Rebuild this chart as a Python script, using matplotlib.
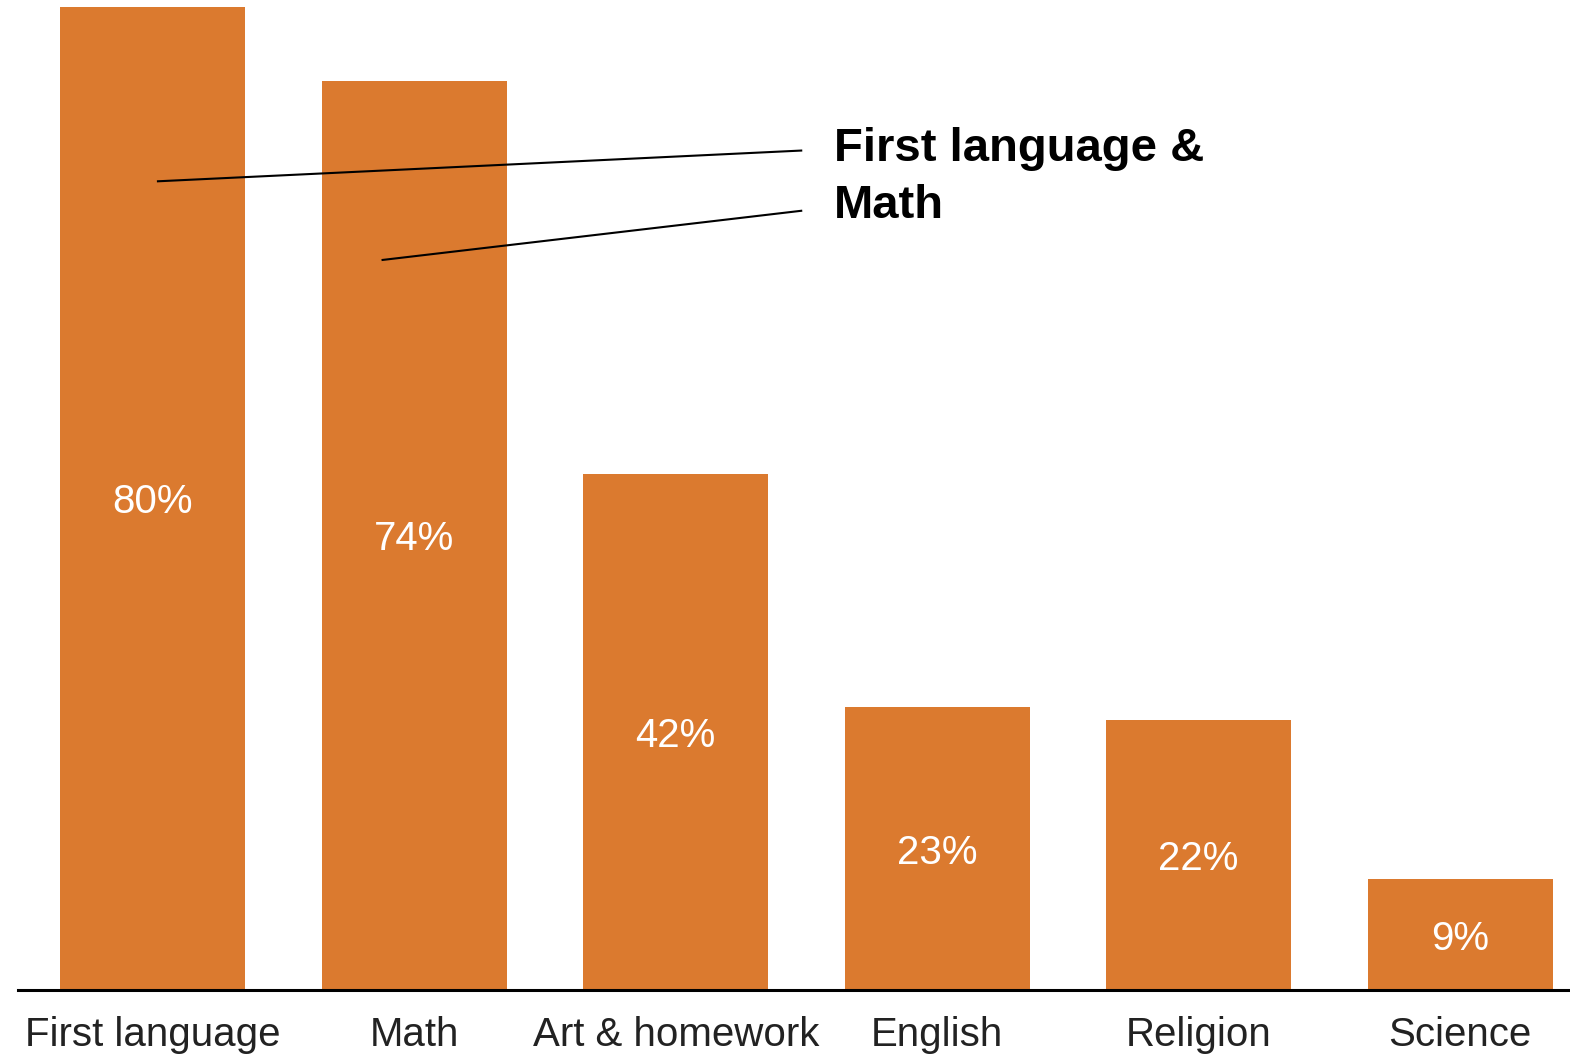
import numpy as np
import matplotlib.pyplot as plt

# subjects and share of pupils
subjects = ["First language", "Math", "Art & homework", "English", "Religion", "Science"]
shares = [80, 74, 42, 23, 22, 9]
value_labels = ["80%", "74%", "42%", "23%", "22%", "9%"]

orange = "#DB7A2F"

plt.rcParams['font.family'] = ['Liberation Sans', 'DejaVu Sans']

fig = plt.figure(figsize=(15.7, 10.55), dpi=100)
ax = fig.add_axes([0.0115, 0.0616, 0.9885, 0.9384])

x = np.arange(len(subjects))
bars = ax.bar(x, shares, width=0.708, color=orange)

for b, lab in zip(bars, value_labels):
    ax.text(b.get_x() + b.get_width() / 2, b.get_height() / 2, lab,
            ha="center", va="center_baseline", color="white", fontsize=29)

ax.set_xlim(-0.515, 5.42)
ax.set_ylim(0, 80.55)
ax.set_xticks(x)
ax.set_xticklabels(subjects, fontsize=29, color="#222222")
ax.tick_params(axis="x", length=0, pad=19)
ax.set_yticks([])
for s in ["top", "right", "left"]:
    ax.spines[s].set_visible(False)
ax.spines["bottom"].set_linewidth(2.2)

# callout for the two largest groups
ax.plot([0.02, 2.48], [65.8, 68.3], color="black", lw=1.5)
ax.plot([0.879, 2.48], [59.4, 63.4], color="black", lw=1.5)
ax.text(2.605, 66.1, "First language &\nMath", ha="left", va="center",
        fontsize=34, fontweight="bold", linespacing=1.4)

fig.savefig("out.png", dpi=100)
